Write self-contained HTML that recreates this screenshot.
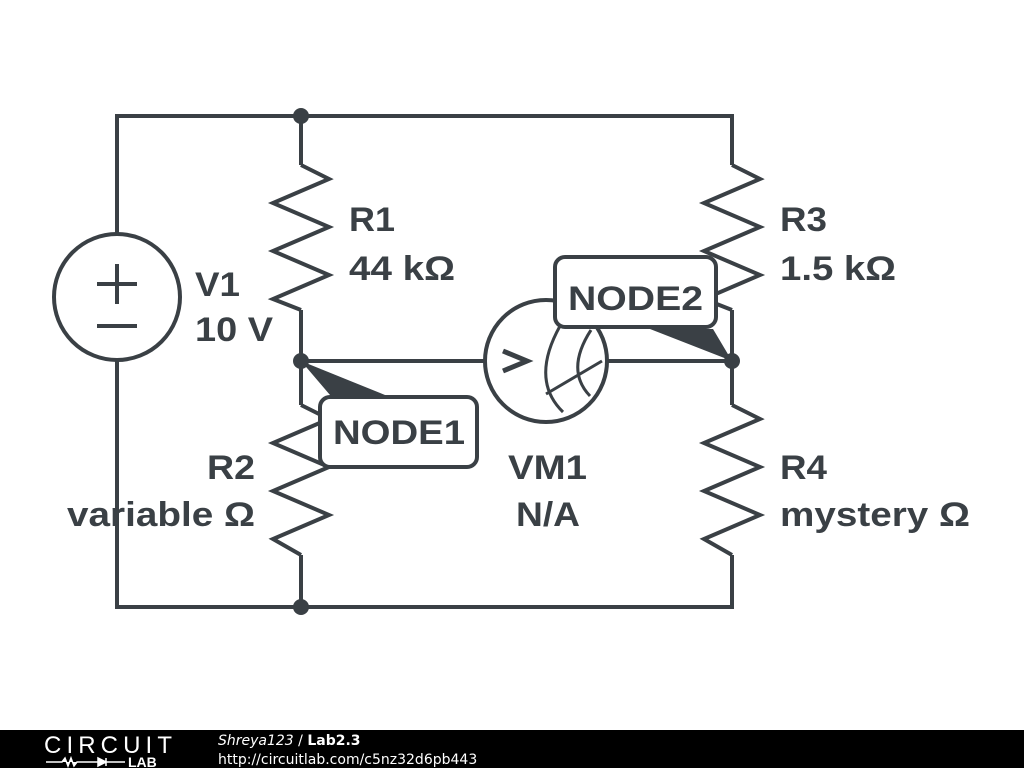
<!DOCTYPE html>
<html><head><style>body{margin:0;width:1024px;height:768px;background:#fff;overflow:hidden}</style></head><body>
<svg width="1024" height="768" viewBox="0 0 1024 768" xmlns="http://www.w3.org/2000/svg">
<g stroke="#3a4045" stroke-width="4" fill="none" stroke-linejoin="miter">
<path d="M117 234V116H732V165M117 360V607H732V555M301 116V165M301 310V405M301 555V607M732 310V405M301 361H485M608 361H732"/>
<circle cx="117" cy="297" r="63"/>
<path d="M97 284H137M117 264V304M97 326H137"/>
<path d="M301 165L329 179L273 203L329 227L273 251L329 275L273 299L301 310"/>
<path d="M301 405L329 419L273 443L329 467L273 491L329 515L273 539L301 555"/>
<path d="M732 165L760 179L704 203L760 227L704 251L760 275L704 299L732 310"/>
<path d="M732 405L760 419L704 443L760 467L704 491L760 515L704 539L732 555"/>
<circle cx="546" cy="361" r="61"/>
<path d="M503 351L527 361L503 371" stroke-width="5"/>
<path d="M560 326Q530 380 563 412M591 330Q565 370 590 396M546 394L602 361" stroke-width="3"/>
<rect x="320" y="397" width="157" height="70" rx="10" fill="#fff"/>
<rect x="555" y="257" width="161" height="70" rx="10" fill="#fff"/>
</g>
<g fill="#3a4045">
<polygon points="301,361 385,395 330,395"/>
<polygon points="732,361 650,329 713,329"/>
<circle cx="301" cy="116" r="8"/><circle cx="301" cy="361" r="8"/><circle cx="301" cy="607" r="8"/><circle cx="732" cy="361" r="8"/>
</g>
<g font-family="Liberation Sans, sans-serif" font-weight="bold" font-size="34" fill="#3a4045" lengthAdjust="spacingAndGlyphs">
<text x="349" y="231" textLength="46" lengthAdjust="spacingAndGlyphs">R1</text><text x="349" y="280" textLength="106" lengthAdjust="spacingAndGlyphs">44 kΩ</text>
<text x="195" y="296" textLength="45" lengthAdjust="spacingAndGlyphs">V1</text><text x="195" y="341" textLength="78" lengthAdjust="spacingAndGlyphs">10 V</text>
<text x="207" y="479" textLength="48" lengthAdjust="spacingAndGlyphs">R2</text><text x="67" y="526" textLength="188" lengthAdjust="spacingAndGlyphs">variable Ω</text>
<text x="508" y="479" textLength="79" lengthAdjust="spacingAndGlyphs">VM1</text><text x="516" y="526" textLength="64" lengthAdjust="spacingAndGlyphs">N/A</text>
<text x="780" y="231" textLength="47" lengthAdjust="spacingAndGlyphs">R3</text><text x="780" y="280" textLength="116" lengthAdjust="spacingAndGlyphs">1.5 kΩ</text>
<text x="780" y="479" textLength="47" lengthAdjust="spacingAndGlyphs">R4</text><text x="780" y="526" textLength="190" lengthAdjust="spacingAndGlyphs">mystery Ω</text>
<text x="333" y="444" textLength="132" lengthAdjust="spacingAndGlyphs">NODE1</text>
<text x="568" y="310" textLength="135" lengthAdjust="spacingAndGlyphs">NODE2</text>
</g>
<rect x="0" y="730" width="1024" height="38" fill="#000"/>
<text x="44" y="753" font-family="Liberation Sans, sans-serif" font-size="24" fill="#fff" textLength="128">CIRCUIT</text>
<path d="M46 762H62l3-4 3 8 3-8 3 8 3-4H98M98 758v8l8-4z M106 758v8M106 762H125" stroke="#fff" stroke-width="1.5" fill="#fff"/>
<text x="128" y="767" font-family="Liberation Sans, sans-serif" font-weight="bold" font-size="14" fill="#fff">LAB</text>
<text x="218" y="745" font-family="DejaVu Sans, sans-serif" font-size="14" fill="#fff"><tspan font-style="italic">Shreya123</tspan> / <tspan font-weight="bold">Lab2.3</tspan></text>
<text x="218" y="764" font-family="DejaVu Sans, sans-serif" font-size="14" fill="#fff">http://circuitlab.com/c5nz32d6pb443</text>
</svg>
</body></html>
